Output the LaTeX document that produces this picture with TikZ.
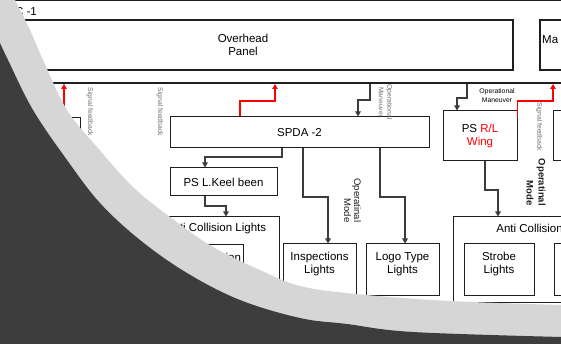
\documentclass[tikz,border=0pt]{standalone}
\usepackage{fontspec}
\setmainfont{Liberation Sans}
\usetikzlibrary{arrows.meta}
\definecolor{ovdark}{HTML}{3D3D3D}
\definecolor{ovlight}{HTML}{D6D6D6}
\definecolor{linecol}{HTML}{1E1E1E}
\definecolor{conncol}{HTML}{3C3C3C}
\definecolor{sfgray}{HTML}{6E6E6E}
\definecolor{rl}{HTML}{FF0000}
\begin{document}
\begin{tikzpicture}[x=1pt,y=-1pt,
 box/.style={draw=linecol,line width=1pt,fill=white,inner sep=0pt,align=center,font=\fontsize{11.5}{13}\selectfont},
 boxtxt/.style={inner sep=0pt,align=center,font=\fontsize{11.5}{13}\selectfont},
 lbl/.style={boxtxt,yshift=5.5pt},
 conn/.style={draw=conncol,line width=1.3pt,-{Triangle[length=5pt,width=5.5pt]}},
 redconn/.style={draw=rl,line width=1.2pt,-{Triangle[length=5pt,width=5.5pt]}},
 fbtext/.style={inner sep=0pt,text=sfgray,font=\fontsize{6.8}{8.5}\selectfont},
 modetext/.style={inner sep=0pt,text=linecol,font=\fontsize{9.5}{10}\selectfont},
 busline/.style={draw=linecol,line width=1.4pt}]

\useasboundingbox (0,0) rectangle (561,344);
\clip (0,0) rectangle (561,344);
\fill[white] (0,0) rectangle (561,344);

% top frame and title
\coordinate (ftl) at (-10,0.8);
\coordinate (ftr) at (570,0.8);
\draw[busline] (ftl) -- (ftr);
\node[boxtxt, anchor=base east] (title) at (37,16) {C -1};

% panels
\node[box, line width=1.3pt, minimum width=540pt, minimum height=50pt] (ovh) at (243,45) {Overhead\\Panel};
\node[box, line width=1.3pt, minimum width=100pt, minimum height=50pt] (ma) at (590,45) {};
\node[boxtxt, anchor=base west] (matext) at (542,44) {Ma};

% bus line
\coordinate (busw) at (-10,83);
\coordinate (buse) at (570,83);
\draw[busline] (busw) -- (buse);

% boxes
\node[box, minimum width=74pt, minimum height=30pt] (lbox) at (43,133) {};
\node[box, minimum width=259pt, minimum height=31pt] (spda) at (299.5,132.5) {SPDA -2};
\node[box, minimum width=74pt, minimum height=50pt] (psrl) at (480,136) {PS \textcolor{rl}{R/L}\\\textcolor{rl}{Wing}};
\node[box, minimum width=74pt, minimum height=50pt] (rbox) at (590,136) {};
\node[box, minimum width=107pt, minimum height=28pt] (keel) at (223.5,182) {PS L.Keel been};
\node[box, minimum width=126pt, minimum height=118pt] (acl) at (216,276) {};
\node[boxtxt, anchor=base] (acltxt) at (216,232) {Anti Collision Lights};
\node[box, minimum width=70pt, minimum height=51pt,
      label={[lbl, text width=66pt, align=right]center:{Navigation\\Lights}}] (nav) at (208,270.5) {};
\node[box, minimum width=73pt, minimum height=51pt,
      label={[lbl]center:{Inspections\\Lights}}] (insp) at (319.5,269.5) {};
\node[box, minimum width=73pt, minimum height=51pt,
      label={[lbl]center:{Logo Type\\Lights}}] (logo) at (402.5,269.5) {};
\node[box, minimum width=187pt, minimum height=85pt] (acr) at (546.5,259.5) {};
\node[boxtxt, anchor=base] (acrtxt) at (546.5,233) {Anti Collision Lights};
\node[box, minimum width=70pt, minimum height=51pt,
      label={[lbl]center:{Strobe\\Lights}}] (strobe) at (499,269.5) {};
\node[box, minimum width=70pt, minimum height=51pt] (beacon) at (589,269.5) {};

% small labels
\node[fbtext, rotate=-90, anchor=west] (sf1) at (90,87.5) {Signal feedback};
\node[fbtext, rotate=-90, anchor=west] (sf2) at (160,87.5) {Signal feedback};
\node[fbtext, rotate=-90, anchor=west] (sf3) at (539,102.5) {Signal feedback};
\node[fbtext, rotate=-90, anchor=west, align=center] (om1) at (385.5,84.5) {Operational\\Maneuver};
\node[inner sep=0pt, align=center, font=\fontsize{6.8}{9}\selectfont] (om2) at (497,95.5) {Operational\\Maneuver};
\node[modetext, rotate=-90, anchor=east, align=right] (mode1) at (352.5,222.5) {Operatinal\\Mode};
\node[modetext, font=\fontsize{9.5}{12}\selectfont\bfseries, rotate=-90, anchor=east, align=right] (mode2) at (536,206) {Operatinal\\Mode};

% bus attachment points
\coordinate (b1) at (370,83.7);
\coordinate (b2) at (467,83.7);
\coordinate (b3) at (275,84);
\coordinate (b4) at (64,84);
\coordinate (b5) at (553,84);

% connectors
\draw[conn] (b1) |- (358,100) -- (358,0 |- spda.north);
\draw[conn] (b2) |- (457,98) -- (457,0 |- psrl.north);
\draw[redconn] (240,0 |- spda.north) |- (275,101) -- (b3);
\draw[redconn] (64,0 |- lbox.north) -- (b4);
\draw[redconn] ([yshift=-8pt]psrl.north east) |- (553,101) -- (b5);
\draw[conn] (282,0 |- spda.south) |- (205,157) -- (205,0 |- keel.north);
\draw[conn] (205,0 |- keel.south) |- (226,206) -- (226,0 |- acl.north);
\draw[conn] (303,0 |- spda.south) |- (328,197) -- (328,0 |- insp.north);
\draw[conn] (380,0 |- spda.south) |- (405,197) -- (405,0 |- logo.north);
\draw[conn] (485,0 |- psrl.south) |- (498,190) -- (498,0 |- acr.north);

% decorative overlay
\fill[ovlight] (-1,-1) -- (15,-1) -- plot[smooth, tension=0.6] coordinates {(15,0) (30,30) (43,60) (67,110) (97,147) (133,187) (170,217) (213,247) (260,270) (300,286) (356,294) (450,301) (562,305)} -- (562,345) -- (-1,345) -- cycle;
\fill[ovdark] (-1,41) -- plot[smooth, tension=0.6] coordinates {(0,43) (8,60) (33,110) (67,160) (100,203) (140,240) (187,273) (240,300) (300,318) (347,324) (413,332) (562,337)} -- (562,345) -- (-1,345) -- cycle;
\end{tikzpicture}
\end{document}
